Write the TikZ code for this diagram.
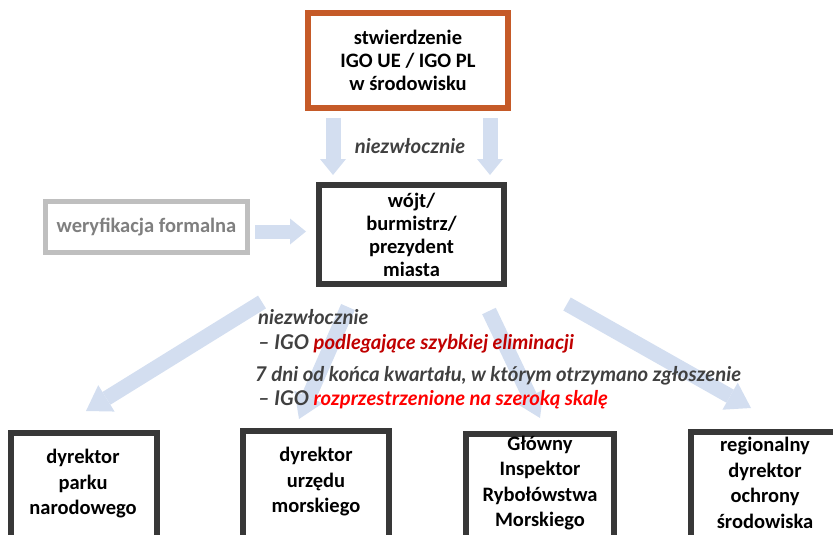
\documentclass[tikz,border=0pt]{standalone}
\usepackage{fontspec}
\setmainfont{Carlito}
\newfontfamily\latofont{Lato}
\usetikzlibrary{arrows.meta}

\definecolor{orangeframe}{HTML}{C55A28}
\definecolor{darkframe}{HTML}{383838}
\definecolor{greyframe}{HTML}{BFBFBF}
\definecolor{greytext}{HTML}{7F7F7F}
\definecolor{labeltext}{HTML}{404040}
\definecolor{darkred}{HTML}{C00000}
\definecolor{brightred}{HTML}{FF0000}
\definecolor{paleblue}{HTML}{D3DEF0}

\tikzset{
  boxtext/.style={font=\fontsize{20.5}{23}\selectfont\bfseries, align=center, text=black},
  lowtext/.style={font=\fontsize{20.5}{25.5}\selectfont\bfseries, align=center, text=black},
  frame/.style={draw=darkframe, line width=6pt, fill=white, inner sep=0pt},
  blockarrow/.style={draw=paleblue, line width=15pt,
    -{Triangle[width=31pt, length=24pt, line width=0pt 0]}},
  downarrow/.style={draw=paleblue, line width=15pt,
    -{Triangle[width=26pt, length=16pt, line width=0pt 0]}},
  smallarrow/.style={draw=paleblue, line width=14pt,
    -{Triangle[width=26pt, length=16pt, line width=0pt 0]}},
  note/.style={font=\latofont\fontsize{20.3}{25}\selectfont\bfseries\itshape,
    text=labeltext, inner sep=0pt, anchor=base west},
}

\begin{document}
\begin{tikzpicture}[x=1pt, y=-1pt]
\useasboundingbox (0,0) rectangle (833,535);
\clip (0,0) rectangle (833,535);

% source of the report
\node[frame, draw=orangeframe, minimum width=200pt, minimum height=95pt, boxtext]
  (src) at (408,60.5) {stwierdzenie\\IGO UE / IGO PL\\w środowisku};

% local authority
\node[frame, minimum width=185pt, minimum height=99pt, boxtext]
  (mayor) at (411.5,234.5) {wójt/\\burmistrz/\\prezydent\\miasta};

% formal check
\node[frame, draw=greyframe, line width=5pt, minimum width=202pt, minimum height=51pt,
  boxtext, text=greytext] (check) at (146.5,227) {weryfikacja formalna};

% receiving authorities (frames run past the lower edge)
\node[frame, minimum width=146pt, minimum height=160pt, anchor=north] (park) at (84,430) {};
\node[frame, minimum width=146pt, minimum height=160pt, anchor=north] (sea) at (316,428) {};
\node[frame, minimum width=148pt, minimum height=160pt, anchor=north] (fish) at (540,431) {};
\node[frame, minimum width=154pt, minimum height=160pt, anchor=north] (env) at (768,429) {};

\node[lowtext] (parkt) at (83,484) {dyrektor\\parku\\narodowego};
\node[lowtext] (seat) at (316,482) {dyrektor\\urzędu\\morskiego};
\node[lowtext] (fisht) at (540,483) {Główny\\Inspektor\\Rybołówstwa\\Morskiego};
\node[lowtext] (envt) at (765,483) {regionalny\\dyrektor\\ochrony\\środowiska};

% arrow end points
\coordinate (a1s) at (333,118);  \coordinate (a1e) at (333,175);
\coordinate (a2s) at (490,118);  \coordinate (a2e) at (490,175);
\coordinate (h1s) at (255,231.5); \coordinate (h1e) at (306,231.5);
\coordinate (d1s) at (262,302);  \coordinate (d1e) at (86,411);
\coordinate (d2s) at (348,307);  \coordinate (d2e) at (299,419);
\coordinate (d3s) at (489,311);  \coordinate (d3e) at (540,418);
\coordinate (d4s) at (567,304);  \coordinate (d4e) at (751,408);

\draw[downarrow] (a1s) -- (a1e);
\draw[downarrow] (a2s) -- (a2e);
\draw[smallarrow] (h1s) -- (h1e);
\draw[blockarrow] (d1s) -- (d1e);
\draw[blockarrow] (d2s) -- (d2e);
\draw[blockarrow] (d3s) -- (d3e);
\draw[blockarrow] (d4s) -- (d4e);

% timing notes
\node[note, anchor=center] (n0) at (410,146) {niezwłocznie};
\node[note] (n1) at (258,324) {niezwłocznie};
\node[note] (n2) at (258,349) {– IGO \textcolor{darkred}{podlegające szybkiej eliminacji}};
\node[note] (n3) at (255,381) {7 dni od końca kwartału, w którym otrzymano zgłoszenie};
\node[note] (n4) at (258,405) {– IGO \textcolor{brightred}{rozprzestrzenione na szeroką skalę}};
\end{tikzpicture}
\end{document}
